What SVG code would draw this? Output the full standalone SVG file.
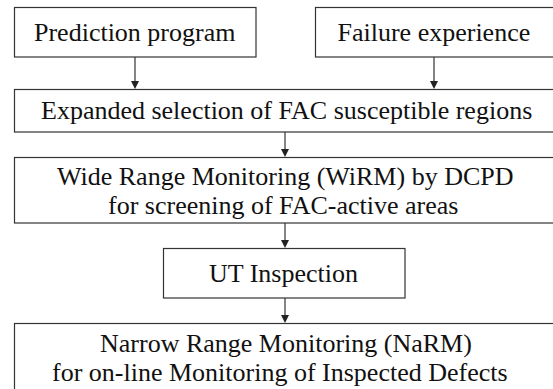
<svg xmlns="http://www.w3.org/2000/svg" width="553" height="389" viewBox="0 0 553 389">
<rect width="553" height="389" fill="#ffffff"/>
<g id="connectors">
<line x1="135" y1="57" x2="135" y2="82" stroke="#333333" stroke-width="1.2"/>
<polygon points="131,81 139,81 135,89" fill="#222222"/>
<line x1="434" y1="57" x2="434" y2="82" stroke="#333333" stroke-width="1.2"/>
<polygon points="430,81 438,81 434,89" fill="#222222"/>
<line x1="285" y1="132" x2="285" y2="150" stroke="#333333" stroke-width="1.2"/>
<polygon points="281,149 289,149 285,157" fill="#222222"/>
<line x1="285" y1="223" x2="285" y2="241" stroke="#333333" stroke-width="1.2"/>
<polygon points="281,240 289,240 285,248" fill="#222222"/>
<line x1="285" y1="298" x2="285" y2="316" stroke="#333333" stroke-width="1.2"/>
<polygon points="281,315 289,315 285,323" fill="#222222"/>
</g>
<g id="prediction">
<rect x="14.5" y="7.5" width="241.5" height="49.5" fill="#ffffff" stroke="#333333" stroke-width="1.2"/>
<text x="34" y="41" font-family="Times New Roman" font-size="26" fill="#111111">Prediction program</text>
</g>
<g id="failure">
<rect x="315.5" y="7.5" width="250" height="49.5" fill="#ffffff" stroke="#333333" stroke-width="1.2"/>
<text x="337.5" y="41" font-family="Times New Roman" font-size="26" fill="#111111">Failure experience</text>
</g>
<g id="expanded">
<rect x="14.5" y="89.5" width="560" height="42.5" fill="#ffffff" stroke="#333333" stroke-width="1.2"/>
<text x="41" y="119" font-family="Times New Roman" font-size="26" fill="#111111">Expanded selection of FAC susceptible regions</text>
</g>
<g id="wirm">
<rect x="14.5" y="157.5" width="560" height="65.5" fill="#ffffff" stroke="#333333" stroke-width="1.2"/>
<text x="57" y="185" font-family="Times New Roman" font-size="26" fill="#111111">Wide Range Monitoring (WiRM) by DCPD</text>
<text x="108" y="214" font-family="Times New Roman" font-size="26" fill="#111111">for screening of FAC-active areas</text>
</g>
<g id="ut">
<rect x="163.5" y="248.5" width="241.5" height="49.5" fill="#ffffff" stroke="#333333" stroke-width="1.2"/>
<text x="209" y="282" font-family="Times New Roman" font-size="26" fill="#111111">UT Inspection</text>
</g>
<g id="narm">
<rect x="14.5" y="323.5" width="560" height="90" fill="#ffffff" stroke="#333333" stroke-width="1.2"/>
<text x="100" y="352" font-family="Times New Roman" font-size="26" fill="#111111">Narrow Range Monitoring (NaRM)</text>
<text x="52" y="381" font-family="Times New Roman" font-size="26" fill="#111111">for on-line Monitoring of Inspected Defects</text>
</g>
</svg>
